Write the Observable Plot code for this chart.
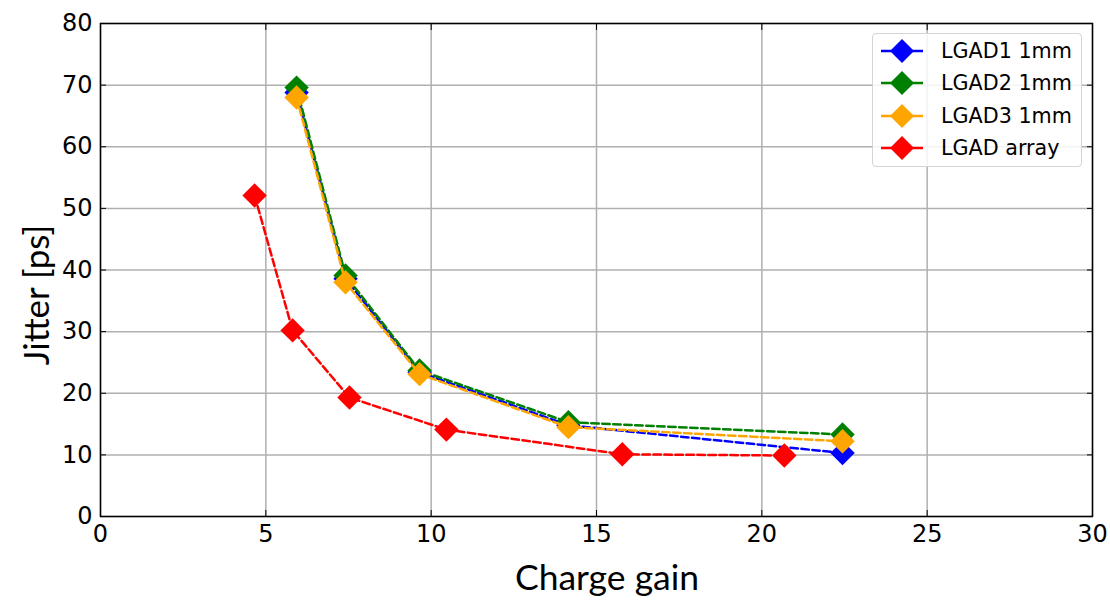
<!DOCTYPE html>
<html><head><meta charset="utf-8">
<script src="https://cdn.jsdelivr.net/npm/d3@7"></script>
<script src="https://cdn.jsdelivr.net/npm/@observablehq/plot@0.6"></script>
<style>
body{margin:0;background:#fff;}
#wrap{position:relative;width:1110px;height:600px;overflow:hidden;}
#legend{position:absolute;left:872px;top:33px;width:210px;height:134px;border:1.5px solid #d4d4d4;border-radius:4px;background:rgba(255,255,255,0.85);font-family:"DejaVu Sans";font-size:20.7px;box-sizing:border-box;}
.row{position:absolute;left:0;height:32px;display:flex;align-items:center;}
.row svg{margin-left:6px;}
.row span{margin-left:16px;color:#000;}
.alabel{position:absolute;font-family:Lato,"Open Sans",sans-serif;font-size:35.5px;line-height:1.1;color:#000;white-space:nowrap;}
</style></head>
<body><div id="wrap"></div>
<script>
const series = ["LGAD1 1mm", "LGAD2 1mm", "LGAD3 1mm", "LGAD array"];
const colors = ["#0000ff", "#008000", "#ffa500", "#ff0000"];
const gain123 = [5.93, 7.41, 9.65, 14.15, 22.44];
const lgad1 = [68.8, 38.6, 23.4, 14.8, 10.3];
const lgad2 = [69.6, 39.1, 23.7, 15.3, 13.3];
const lgad3 = [68.0, 38.0, 23.1, 14.5, 12.2];
const gainArray = [4.66, 5.81, 7.53, 10.46, 15.78, 20.68];
const lgadArray = [52.1, 30.2, 19.3, 14.1, 10.1, 9.9];
const xTicks = [0, 5, 10, 15, 20, 25, 30];
const yTicks = [0, 10, 20, 30, 40, 50, 60, 70, 80];

const xs = [gain123, gain123, gain123, gainArray];
const ys = [lgad1, lgad2, lgad3, lgadArray];
const data = series.map((s, i) => xs[i].map((x, j) => ({series: s, x, y: ys[i][j]})));

const marks = [
  Plot.gridX(xTicks, {stroke: "#b0b0b0", strokeOpacity: 1, strokeWidth: 1.5}),
  Plot.gridY(yTicks, {stroke: "#b0b0b0", strokeOpacity: 1, strokeWidth: 1.5}),
];
data.forEach((d, i) => {
  marks.push(Plot.line(d, {x: "x", y: "y", stroke: colors[i], strokeWidth: 2.5, strokeDasharray: "7.5,3.5"}));
  marks.push(Plot.dot(d, {x: "x", y: "y", symbol: "diamond2", r: 11, fill: colors[i], stroke: "none"}));
});
const blank = () => "";
marks.push(
  Plot.axisX({ticks: xTicks, tickSize: -6, tickPadding: 14, fontSize: 24, tickFormat: d3.format("d")}),
  Plot.axisX({ticks: xTicks, anchor: "top", tickSize: -6, tickFormat: blank, label: null}),
  Plot.axisY({ticks: yTicks, tickSize: -6, tickPadding: 14, fontSize: 24, tickFormat: d3.format("d")}),
  Plot.axisY({ticks: yTicks, anchor: "right", tickSize: -6, tickFormat: blank, label: null}),
  Plot.frame({stroke: "#000", strokeWidth: 1.5})
);

const chart = Plot.plot({
  width: 1110, height: 600,
  marginLeft: 100, marginRight: 18, marginTop: 23, marginBottom: 84,
  style: {fontFamily: "DejaVu Sans", color: "#000", background: "#fff"},
  x: {domain: [0, 30], label: null},
  y: {domain: [0, 80], label: null},
  marks
});
const wrap = document.getElementById("wrap");
wrap.appendChild(chart);

const xl = document.createElement("div");
xl.className = "alabel"; xl.textContent = "Charge gain";
xl.style.left = "607px"; xl.style.top = "577px"; xl.style.transform = "translate(-50%,-50%)";
wrap.appendChild(xl);
const yl = document.createElement("div");
yl.className = "alabel"; yl.textContent = "Jitter [ps]";
yl.style.left = "35px"; yl.style.top = "295px"; yl.style.transform = "translate(-50%,-50%) rotate(-90deg)";
yl.style.fontSize = "35px";
wrap.appendChild(yl);

const lg = document.createElement("div");
lg.id = "legend";
series.forEach((s, i) => {
  const r = document.createElement("div");
  r.className = "row"; r.style.top = (1 + i * 32.3) + "px";
  r.innerHTML = `<svg width="46" height="30"><line x1="2" x2="44" y1="15" y2="15" stroke="${colors[i]}" stroke-width="2.5"/><path d="M23,3 L35,15 L23,27 L11,15 Z" fill="${colors[i]}"/></svg><span>${s}</span>`;
  lg.appendChild(r);
});
wrap.appendChild(lg);
</script></body></html>
